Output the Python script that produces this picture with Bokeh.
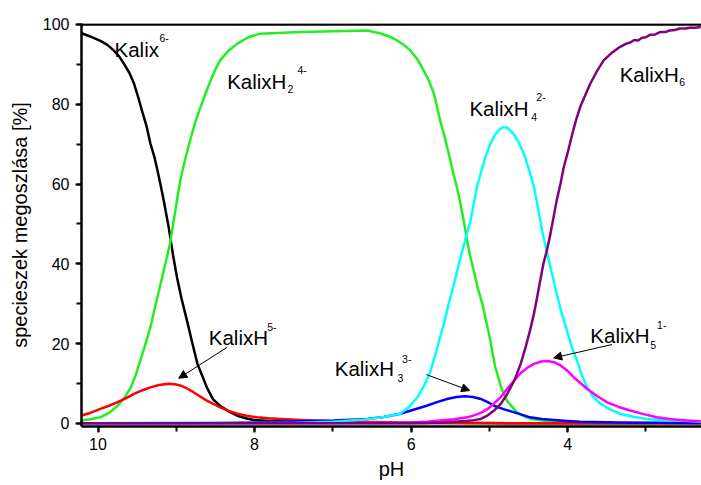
from bokeh.plotting import figure
from bokeh.models import (Range1d, SingleIntervalTicker, Label, Arrow, NormalHead, Span)
from bokeh.embed import file_html
from bokeh.resources import INLINE

# ---------------- data ----------------
ph_kalix = [10.21, 10.10, 9.97, 9.88, 9.80, 9.73, 9.67, 9.60, 9.54, 9.49, 9.44, 9.38,
            9.33, 9.28, 9.24, 9.20, 9.16, 9.10, 9.04, 8.99, 8.93, 8.86, 8.80, 8.73,
            8.67, 8.61, 8.53, 8.44, 8.33, 8.22, 8.10, 8.01, 7.85, 7.67, 7.40, 7.00,
            6.50, 5.50, 4.00, 2.30]
val_kalix = [97.8, 97.0, 95.9, 94.9, 93.5, 92.0, 90.2, 87.9, 85.2, 82.0, 78.5, 74.5,
             70.1, 66.8, 63.4, 59.7, 55.8, 49.5, 42.0, 36.5, 31.0, 25.5, 20.5, 14.9,
             12.0, 9.0, 6.0, 4.4, 3.0, 1.9, 1.2, 0.85, 0.65, 0.5, 0.35, 0.2,
             0.1, 0.05, 0.0, 0.0]

ph_h1 = [10.22, 10.10, 9.97, 9.86, 9.75, 9.64, 9.54, 9.43, 9.33, 9.22, 9.10, 9.02,
         8.95, 8.87, 8.78, 8.70, 8.61, 8.52, 8.44, 8.33, 8.22, 8.10, 7.97, 7.82,
         7.67, 7.41, 7.00, 6.50, 6.00, 5.00, 4.00, 2.30]
val_h1 = [1.9, 2.6, 3.6, 4.4, 5.3, 6.3, 7.4, 8.3, 9.0, 9.6, 9.9, 9.8,
          9.5, 8.8, 7.8, 6.8, 5.7, 4.8, 4.0, 3.1, 2.4, 1.9, 1.5, 1.25,
          1.1, 0.85, 0.5, 0.3, 0.15, 0.05, 0.02, 0.0]

ph_h2 = [10.22, 10.10, 9.97, 9.86, 9.75, 9.66, 9.58, 9.52, 9.46, 9.40, 9.33, 9.27,
         9.20, 9.14, 9.08, 9.04, 8.99, 8.95, 8.90, 8.85, 8.80, 8.75, 8.69, 8.62,
         8.56, 8.50, 8.44, 8.33, 8.22, 8.08, 7.93, 7.41, 6.56, 6.40, 6.28, 6.18,
         6.10, 6.01, 5.92, 5.84, 5.77, 5.71, 5.67, 5.63, 5.58, 5.54, 5.50, 5.46,
         5.41, 5.37, 5.33, 5.29, 5.25, 5.20, 5.15, 5.09, 5.04, 4.99, 4.93, 4.85,
         4.77, 4.65, 4.55, 4.45, 4.20, 3.80, 2.30]
val_h2 = [0.7, 1.0, 1.5, 2.6, 4.4, 6.5, 9.0, 12.0, 15.7, 19.5, 24.1, 29.3,
          35.0, 40.0, 45.0, 50.0, 56.0, 60.8, 65.1, 69.0, 72.6, 76.0, 79.3, 83.0,
          86.0, 88.8, 91.0, 93.5, 95.2, 96.8, 97.7, 98.1, 98.5, 97.8, 97.0, 96.0,
          95.0, 93.5, 91.3, 88.5, 85.8, 82.7, 79.5, 76.0, 72.5, 69.3, 66.0, 62.6,
          58.8, 55.1, 51.0, 46.5, 42.3, 38.3, 34.0, 30.0, 25.5, 21.0, 14.5, 9.0,
          5.5, 2.8, 1.7, 1.0, 0.4, 0.1, 0.0]

ph_h3 = [10.21, 8.50, 8.00, 7.41, 6.99, 6.56, 6.35, 6.14, 5.97, 5.80, 5.67, 5.54,
         5.42, 5.31, 5.21, 5.11, 5.02, 4.94, 4.81, 4.69, 4.58, 4.48, 4.33, 4.18,
         4.00, 3.84, 3.33, 2.30]
val_h3 = [0.0, 0.05, 0.2, 0.5, 0.7, 1.1, 1.6, 2.4, 3.4, 4.4, 5.3, 6.1,
          6.6, 6.8, 6.6, 6.1, 5.3, 4.4, 3.5, 2.8, 2.1, 1.5, 1.1, 0.85,
          0.6, 0.4, 0.2, 0.1]

ph_h4 = [10.21, 7.50, 7.00, 6.56, 6.35, 6.14, 6.03, 5.92, 5.83, 5.75, 5.69, 5.63,
         5.57, 5.52, 5.46, 5.41, 5.36, 5.31, 5.24, 5.16, 5.12, 5.08, 5.04, 5.00,
         4.96, 4.92, 4.87, 4.82, 4.78, 4.74, 4.69, 4.63, 4.56, 4.50, 4.43, 4.39,
         4.35, 4.31, 4.26, 4.20, 4.14, 4.08, 4.01, 3.95, 3.88, 3.82, 3.75, 3.67,
         3.58, 3.46, 3.33, 3.15, 2.99, 2.80, 2.57, 2.30]
val_h4 = [0.0, 0.1, 0.4, 1.0, 1.6, 2.4, 4.0, 6.5, 9.5, 13.2, 17.2, 21.6,
          25.8, 30.0, 34.3, 38.3, 42.2, 45.9, 50.9, 59.2, 62.0, 64.8, 67.3, 69.5,
          71.2, 72.6, 73.7, 74.3, 74.2, 73.6, 72.6, 70.6, 67.6, 64.0, 59.2, 55.2,
          50.9, 46.8, 42.5, 37.5, 32.5, 27.8, 23.3, 19.3, 15.7, 12.2, 9.0, 6.6,
          4.9, 3.5, 2.4, 1.6, 1.1, 0.85, 0.7, 0.4]

ph_h5 = [10.21, 7.00, 6.00, 5.80, 5.63, 5.45, 5.28, 5.20, 5.11, 5.02, 4.94, 4.85,
         4.77, 4.68, 4.60, 4.51, 4.43, 4.34, 4.26, 4.17, 4.09, 4.00, 3.92, 3.83,
         3.75, 3.62, 3.50, 3.35, 3.20, 3.03, 2.86, 2.67, 2.48, 2.30]
val_h5 = [0.0, 0.0, 0.2, 0.4, 0.7, 1.0, 1.5, 2.0, 2.6, 3.6, 5.0, 6.7,
          8.7, 10.8, 12.6, 14.0, 14.9, 15.5, 15.6, 15.3, 14.5, 13.1, 11.5, 10.0,
          8.6, 6.8, 5.3, 4.1, 3.2, 2.3, 1.5, 1.0, 0.7, 0.5]

ph_h6 = [10.21, 6.00, 5.80, 5.60, 5.45, 5.30, 5.20, 5.11, 5.02, 4.94, 4.85, 4.77,
         4.68, 4.60, 4.54, 4.48, 4.43, 4.39, 4.35, 4.31, 4.26, 4.22, 4.18, 4.14,
         4.09, 4.05, 3.99, 3.94, 3.89, 3.84, 3.77, 3.71, 3.62, 3.54, 3.43, 3.33,
         3.25, 3.20, 3.15, 3.10, 3.05, 3.00, 2.95, 2.88, 2.82, 2.75, 2.70, 2.63,
         2.57, 2.50, 2.44, 2.37, 2.30]
val_h6 = [0.0, 0.0, 0.1, 0.2, 0.4, 0.6, 0.8, 1.1, 2.0, 3.2, 5.0, 7.4,
          10.8, 14.9, 18.9, 23.3, 27.5, 31.6, 35.8, 40.0, 43.8, 47.5, 51.7, 55.9,
          60.2, 64.2, 68.6, 72.6, 76.2, 79.3, 82.5, 85.2, 88.5, 91.0, 93.0, 94.4,
          95.2, 95.5, 96.1, 96.0, 96.7, 96.8, 97.4, 97.5, 98.1, 98.1, 98.5, 98.6,
          99.0, 99.0, 99.2, 99.2, 99.4]

series = [
    (ph_kalix, val_kalix, "#000000"),
    (ph_h2, val_h2, "#22ee22"),
    (ph_h1, val_h1, "#ff0000"),
    (ph_h3, val_h3, "#0000ff"),
    (ph_h4, val_h4, "#00ffff"),
    (ph_h5, val_h5, "#ff00ff"),
    (ph_h6, val_h6, "#800080"),
]

FONT = "Liberation Sans"

p = figure(width=701, height=485, output_backend="svg", toolbar_location=None,
           x_range=Range1d(10.211, 2.290), y_range=Range1d(-0.8, 100.25),
           min_border_left=81, min_border_right=0, min_border_top=23,
           min_border_bottom=59)
p.background_fill_color = "white"
p.border_fill_color = "white"
p.outline_line_color = None
p.grid.visible = False

for xs, ys, col in series:
    p.line(xs, ys, line_color=col, line_width=2.5, line_join="round")

# top frame line
p.add_layout(Span(location=100, dimension="width", line_color="black", line_width=2.5))

p.xaxis.ticker = SingleIntervalTicker(interval=2, num_minor_ticks=2)
p.yaxis.ticker = SingleIntervalTicker(interval=20, num_minor_ticks=2)
for ax in (p.xaxis, p.yaxis):
    ax.axis_line_width = 2.5
    ax.axis_line_color = "black"
    ax.major_tick_line_width = 2
    ax.minor_tick_line_width = 2
    ax.major_tick_in = 0
    ax.major_tick_out = 6
    ax.minor_tick_in = 0
    ax.minor_tick_out = 5
    ax.major_label_text_font = FONT
    ax.major_label_text_font_size = "16px"
    ax.major_label_text_color = "black"
    ax.axis_label_text_font = FONT
    ax.axis_label_text_font_size = "20px"
    ax.axis_label_text_font_style = "normal"
    ax.axis_label_text_color = "black"

p.xaxis.major_label_standoff = 5
p.xaxis.axis_label = "pH"
p.xaxis.axis_label_standoff = 5
p.yaxis.major_label_standoff = 6
p.yaxis.axis_label = "specieszek megoszlása [%]"
p.yaxis.axis_label_standoff = 9

# ---------------- annotations ----------------
BIG = "20.5px"
SMALL = "10.5px"

def lab(x, y, t, size):
    p.add_layout(Label(x=x, y=y, text=t, text_font=FONT, text_font_size=size,
                       text_color="black", text_baseline="alphabetic",
                       text_align="left"))

# Kalix6-
lab(9.789, 93.78, "Kalix", BIG)
lab(9.215, 96.66, "6-", SMALL)
# KalixH2 4-
lab(8.350, 85.82, "KalixH", BIG)
lab(7.580, 83.91, "2", SMALL)
lab(7.452, 88.51, "4-", SMALL)
# KalixH4 2-
lab(5.255, 78.90, "KalixH", BIG)
lab(4.464, 76.79, "4", SMALL)
lab(4.400, 81.81, "2-", SMALL)
# KalixH6
lab(3.336, 87.50, "KalixH", BIG)
lab(2.573, 85.57, "6", SMALL)
# KalixH5-
lab(8.585, 21.43, "KalixH", BIG)
lab(7.839, 24.27, "5-", SMALL)
# KalixH3 3-
lab(6.976, 13.80, "KalixH", BIG)
lab(6.175, 11.39, "3", SMALL)
lab(6.115, 16.16, "3-", SMALL)
# KalixH5 1-
lab(3.710, 22.01, "KalixH", BIG)
lab(2.944, 19.75, "5", SMALL)
lab(2.858, 24.69, "1-", SMALL)

def arrow(x0, y0, x1, y1):
    p.add_layout(Arrow(end=NormalHead(size=8, fill_color="black", line_color="black",
                                      line_width=1),
                       x_start=x0, y_start=y0, x_end=x1, y_end=y1,
                       line_color="black", line_width=1))

arrow(8.350, 19.07, 8.968, 11.29)
arrow(5.805, 12.22, 5.252, 8.21)
arrow(3.433, 19.75, 4.179, 16.41)

open("out.html", "w").write(file_html(p, INLINE))
